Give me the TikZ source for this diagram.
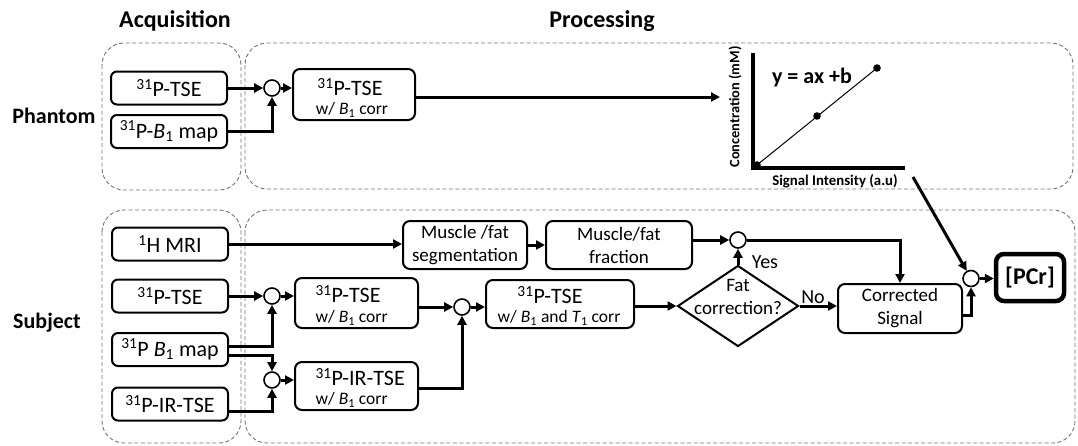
\documentclass[tikz,border=0pt]{standalone}
\usepackage{fontspec}
\setmainfont{Carlito}
\usetikzlibrary{arrows.meta,shapes.geometric,calc}
\begin{document}
\begin{tikzpicture}[x=1pt,y=-1pt,
  region/.style={draw=black!55,dashed,dash pattern=on 4pt off 2.5pt,line width=0.9pt,rounded corners=22pt},
  acqbox/.style={draw,line width=2pt,rounded corners=6pt,minimum width=116pt,minimum height=33pt,inner sep=0pt,font=\fontsize{22}{24}\selectfont},
  procbox/.style={draw,line width=2pt,rounded corners=7pt,inner sep=0pt,align=center,font=\fontsize{19}{23}\selectfont},
  sumc/.style={circle,draw,line width=1.6pt,minimum size=16pt,inner sep=0pt},
  arr/.style={line width=3pt,-{Triangle[length=9pt,width=9pt]}},
  big/.style={font=\fontsize{22}{26}\selectfont},
  small/.style={font=\fontsize{17.5}{20}\selectfont},
  title/.style={font=\bfseries\fontsize{24}{28}\selectfont},
  lab/.style={font=\bfseries\fontsize{22}{26}\selectfont}]
\useasboundingbox (0,0) rectangle (1078,445);
% regions
\draw[region] (102,43) rectangle (241,190);
\draw[region] (245,43) rectangle (1073,189);
\draw[region] (102,210) rectangle (241,443);
\draw[region] (245,210) rectangle (1075,443);
% titles
\node[title] (tacq) at (175,21) {Acquisition};
\node[title] (tproc) at (602,21) {Processing};
\node[lab] (tph) at (54,116) {Phantom};
\node[lab] (tsub) at (47,323) {Subject};
% phantom
\node[acqbox] (pa1) at (169,88) {\textsuperscript{31}P-TSE};
\node[acqbox] (pa2) at (169,131.5) {\textsuperscript{31}P-\textit{B}\textsubscript{1} map};
\node[sumc] (pc1) at (272,88) {};
\node[procbox,minimum width=122pt,minimum height=51pt] (pp1) at (354,94.5) {};
\node[big] (pp1a) at (350,87) {\textsuperscript{31}P-TSE};
\node[small] (pp1b) at (352,110) {w/ \textit{B}\textsubscript{1} corr};
\coordinate (gin) at (720,97);
\draw[arr] (pa1.east) -- (pc1.west);
\draw[arr] (pa2.east) -| (pc1.south);
\draw[arr] (pc1.east) -- (pc1.east -| pp1.west);
\draw[arr] (pp1.east |- gin) -- (gin);
% graph
\coordinate (gy) at (753,53);
\coordinate (go) at (753,168);
\coordinate (gx) at (905,168);
\draw[line width=3.2pt] (gy) -- (go) -- (gx);
\draw[line width=1pt] (757,165) -- (877,68);
\fill (757,165) circle (3.8pt) (817,116) circle (3.8pt) (877,68) circle (3.8pt);
\node[font=\bfseries\fontsize{22}{26}\selectfont] (eq) at (812,78) {y = ax +b};
\node[font=\bfseries\fontsize{14.8}{17}\selectfont] (xl) at (835,181) {Signal Intensity (a.u)};
\node[font=\bfseries\fontsize{14.4}{17}\selectfont,rotate=90] (yl) at (735,107) {Concentration (mM)};
\coordinate (gout) at (913,177);
% subject acquisition
\node[acqbox] (sa1) at (170,244) {\textsuperscript{1}H MRI};
\node[acqbox] (sa2) at (170,296) {\textsuperscript{31}P-TSE};
\node[acqbox] (sa3) at (170,349.5) {\textsuperscript{31}P \textit{B}\textsubscript{1} map};
\node[acqbox] (sa4) at (170,404) {\textsuperscript{31}P-IR-TSE};
% subject processing
\node[sumc] (sc1) at (272,296) {};
\node[sumc] (sc2) at (272,380) {};
\node[procbox,minimum width=123pt,minimum height=50pt] (sp1) at (356.5,303) {};
\node[big,anchor=west] (sp1a) at (312,294) {\textsuperscript{31}P-TSE};
\node[small,anchor=west] (sp1b) at (312,318) {w/ \textit{B}\textsubscript{1} corr};
\node[procbox,minimum width=123pt,minimum height=48pt] (sp2) at (356.5,386) {};
\node[big,anchor=west] (sp2a) at (312,377) {\textsuperscript{31}P-IR-TSE};
\node[small,anchor=west] (sp2b) at (312,400) {w/ \textit{B}\textsubscript{1} corr};
\node[sumc] (sc3) at (462,307) {};
\node[procbox,minimum width=148pt,minimum height=48pt] (sp3) at (560,304) {};
\node[big] (sp3a) at (550,295) {\textsuperscript{31}P-TSE};
\node[small] (sp3b) at (559,318) {w/ \textit{B}\textsubscript{1} and \textit{T}\textsubscript{1} corr};
\node[procbox,minimum width=124pt,minimum height=48pt] (sm1) at (465,245) {Muscle /fat\\segmentation};
\node[procbox,minimum width=146pt,minimum height=48pt] (sm2) at (619,245) {Muscle/fat\\fraction};
\node[sumc] (sc5) at (738,240) {};
\node[diamond,draw,line width=2pt,minimum width=121pt,minimum height=81pt,inner sep=0pt] (dia) at (738,306) {};
\node[font=\fontsize{19}{23}\selectfont,align=center] (diat) at (738,297) {Fat\\correction?};
\node[procbox,minimum width=124pt,minimum height=49pt] (scs) at (900,308.5) {Corrected\\Signal};
\node[sumc] (sc4) at (971,278.5) {};
\node[draw,line width=4.5pt,rounded corners=8pt,minimum width=68pt,minimum height=47pt,inner sep=0pt,font=\bfseries\fontsize{24}{28}\selectfont] (pcr) at (1030,277.5) {[PCr]};
\node[font=\fontsize{20}{24}\selectfont] (yes) at (765,262) {Yes};
\node[font=\fontsize{20}{24}\selectfont] (no) at (813,297) {No};
% connectors
\draw[arr] (sa1.east) -- (sa1.east -| sm1.west);
\draw[arr] (sm1.east) -- (sm2.west);
\draw[arr] (sm2.east |- sc5) -- (sc5.west);
\draw[arr] (sc5.east) -| (scs.north);
\draw[arr] (dia.north) -- (sc5.south);
\draw[arr] (dia.east) -- (dia.east -| scs.west);
\draw[arr] ([yshift=-7pt]scs.east) -| (sc4.south);
\draw[arr] (sc4.east) -- (sc4.east -| pcr.west);
\draw[arr] (gout) -- (sc4);
\draw[arr] (sa2.east) -- (sc1.west);
\draw[arr] (sc1.east) -- (sc1.east -| sp1.west);
\draw[arr] ([yshift=3.5pt]sa3.east) -| (sc1.south);
\draw[arr] ([yshift=-5.5pt]sa3.east) -| (sc2.north);
\draw[arr] ([yshift=-7pt]sa4.east) -| (sc2.south);
\draw[arr] (sc2.east) -- (sc2.east -| sp2.west);
\draw[arr] (sp1.east |- sc3) -- (sc3.west);
\draw[arr] ([yshift=-2pt]sp2.east) -| (sc3.south);
\draw[arr] (sc3.east) -- (sc3.east -| sp3.west);
\draw[arr] (sp3.east |- dia) -- (dia.west);
\end{tikzpicture}
\end{document}
